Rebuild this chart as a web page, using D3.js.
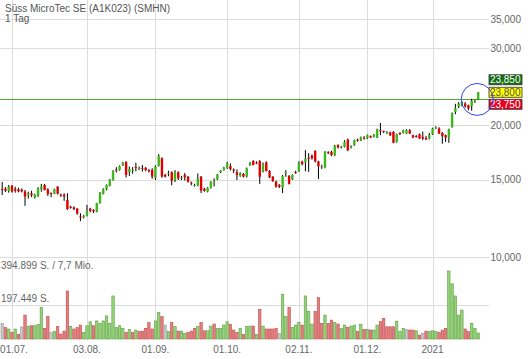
<!DOCTYPE html>
<html>
<head>
<meta charset="utf-8">
<script src="https://cdn.jsdelivr.net/npm/d3@7"></script>
<style>
  body { margin: 0; background: #fff; }
  text { font-family: "Liberation Sans", Arial, sans-serif; }
</style>
</head>
<body>
<svg id="chart" width="530" height="359"></svg>
<script>
// daily candles, 25.06.2020 - 22.01.2021
var opens = [14300,14330,14160,14560,14300,14280,14250,14110,13860,13980,13670,13790,14290,14610,14280,14000,13960,14480,13900,13870,
  13500,13020,12990,12900,12380,12340,12440,12900,12820,12700,13270,13940,14280,14540,15000,15840,15800,16230,16480,15640,
  15780,16050,15930,15990,15990,15790,15810,15180,16140,16810,15420,15500,15620,14990,15620,15120,15400,15260,14800,14580,
  14610,15260,14320,14100,14390,14760,15050,15610,15810,15960,16140,15840,15620,15340,15480,15270,16230,16570,16450,16570,
  15700,16450,15720,15260,14870,14610,14410,15580,15320,15080,15650,15700,16520,16470,16860,17060,17460,16540,16060,16060,
  17350,17400,17080,18020,17830,17860,18560,17860,18040,18540,18500,18720,18680,18890,18820,18760,19490,19400,19250,19260,
  19320,18330,19190,19220,19150,19490,18980,18900,19090,18820,18720,18660,19080,19740,19670,19220,18990,18760,19830,21470,
  22070,22220,22420,22220,22140,22700,22920];
var highs = [14840,14450,14610,14600,14480,14400,14350,14230,14100,14170,13950,14450,14690,14690,14360,14050,14330,14520,13950,13990,
  13990,13100,13050,12930,12590,12480,13160,12960,12860,13300,14080,14360,14650,15080,15800,16050,16200,16500,16570,16100,
  16050,16420,16100,16230,16060,15900,15960,16200,17190,16900,15480,15750,15700,15800,15700,15320,15560,15320,14870,14700,
  15520,15320,14400,14450,14900,15130,15480,15800,16080,16510,16370,15940,15860,15620,15560,16020,16500,16650,16550,16650,
  16450,16560,15800,15300,14950,14680,15400,15800,15400,15450,15750,16550,16600,17550,17280,17150,17550,16600,16250,17460,
  17450,17500,18050,18100,17950,18500,18650,18000,18550,18650,18850,18900,19050,18950,19100,19650,20250,19450,19400,19350,
  19400,19150,19300,19550,19600,19600,19050,19000,19150,19350,18900,19220,19750,19900,19800,19300,19050,19650,21400,22400,
  22600,22700,22600,22300,23000,22900,23850];
var lows = [13860,14080,14030,14030,14030,14060,14050,13090,13600,13700,13600,13720,14100,14200,13790,13700,13920,13900,13720,13440,
  12820,12900,12800,12500,12080,12250,12380,12650,12600,12650,13250,13900,14200,14500,14950,15600,15750,16150,15200,15320,
  15500,15700,15800,15680,15700,15600,15090,15000,16100,15180,15200,15300,14580,14840,15000,14990,14960,14800,14580,14480,
  14510,14000,14100,14050,14330,14500,14980,15550,15750,15900,15770,15550,15000,15250,15200,15200,16150,16200,16300,14690,
  15600,15700,15150,14850,14400,14380,14000,15250,14650,15000,15500,15650,16200,15700,15650,16700,16450,15070,15900,15950,
  17200,17000,17000,17700,17700,17800,17450,17700,17950,18350,18400,18550,18600,18700,18750,18700,18990,19200,19100,18900,
  18200,18250,19000,19150,19100,19100,18700,18750,18600,18500,18500,18570,19000,19600,19100,18150,18330,18240,19750,21200,
  21900,22100,21950,21650,21600,22500,22850];
var closes = [14230,14180,14480,14110,14180,14130,14130,13740,13980,13840,13860,14360,14480,14230,13940,13940,14280,13960,13860,13750,
  12860,12980,12870,12570,12330,12390,12730,12760,12700,13270,14030,14280,14610,15000,15720,15790,16140,16420,15400,15890,
  15830,15990,15960,15950,15810,15720,15270,16090,17010,15270,15270,15580,14950,15620,15130,15180,15210,14870,14740,14620,
  15130,14190,14160,14390,14870,14800,15430,15770,16000,16370,15890,15780,15400,15540,15270,15940,16420,16230,16400,15260,
  16280,15720,15200,14920,14480,14480,15320,15640,14690,15400,15580,16420,16300,16770,16800,16810,16550,16110,16100,17400,
  17300,17100,17960,17800,17870,18330,17550,17950,18500,18460,18760,18660,18990,18760,19050,19560,19390,19330,19300,18990,
  18240,19090,19150,19490,19490,19160,18750,18880,18660,18660,18570,18990,19670,19770,19150,18890,18760,19560,21280,21900,
  22420,22610,22100,21850,22730,22810,23800];
// pieces per day
var volumes = [91000,66000,58000,39000,58000,27000,70000,139000,75000,77000,77000,85000,184000,62000,130000,37000,43000,72000,29000,46000,
  279000,73000,58000,66000,81000,39000,77000,100000,77000,105000,91000,105000,134000,91000,250000,66000,77000,62000,39000,56000,
  39000,52000,43000,46000,62000,95000,58000,105000,153000,130000,81000,43000,95000,72000,46000,46000,33000,39000,46000,62000,
  72000,95000,48000,48000,75000,87000,62000,62000,81000,100000,85000,52000,39000,62000,27000,72000,75000,75000,27000,172000,
  75000,58000,58000,58000,62000,33000,260000,130000,184000,68000,81000,95000,81000,250000,162000,87000,159000,240000,91000,139000,
  91000,110000,95000,87000,62000,81000,68000,75000,81000,43000,85000,56000,56000,52000,52000,81000,101000,120000,71000,71000,
  71000,104000,43000,62000,56000,52000,52000,48000,23000,33000,46000,43000,48000,43000,37000,52000,62000,394899,320000,250000,
  139000,168000,58000,43000,91000,62000,35000];

var tickIdx = [3, 26, 47, 69, 91, 112, 132];
var tickLabels = ["01.07.", "03.08.", "01.09.", "01.10.", "02.11.", "01.12.", "2021"];
var priceTicks = [10000, 15000, 20000, 30000, 35000];
var quotes = [23850, 23800, 23750]; // ask / last / bid
var refPrice = 22920;
var volMax = 394899;
var turnover = "7,7 Mio.";
var title = "Süss MicroTec SE (A1K023) (SMHN)";
var period = "1 Tag";

var green = "#3db81a", red = "#e00000";
var svg = d3.select("#chart");
svg.append("rect").attr("width", 530).attr("height", 359).attr("fill", "#fff");

var x = d3.scaleLinear().domain([0, closes.length - 1]).range([2.2, 478.2]);
var y = d3.scaleLog().domain([10000, 35000]).range([257, 19]);
var yv = d3.scaleLinear().domain([0, volMax]).range([339, 271]);
var de = d3.formatLocale({decimal: ",", thousands: ".", grouping: [3], currency: ["", ""]});
var fmtPrice = d3.format(",");
var fmtVol = de.format(",d");

var grid = svg.append("g").attr("stroke", "#dcdcdc").attr("stroke-width", 1);
grid.selectAll(".v").data(tickIdx).join("line")
  .attr("x1", d => Math.round(x(d)) + 0.5).attr("x2", d => Math.round(x(d)) + 0.5)
  .attr("y1", 0).attr("y2", 340);
grid.selectAll(".h").data(priceTicks).join("line")
  .attr("x1", 0).attr("x2", 489)
  .attr("y1", d => Math.round(y(d)) + 0.5).attr("y2", d => Math.round(y(d)) + 0.5);
grid.append("line").attr("x1", 0).attr("x2", 489)
  .attr("y1", Math.round(yv(volMax / 2)) + 0.5).attr("y2", Math.round(yv(volMax / 2)) + 0.5);

// texts
svg.append("text").attr("x", 5).attr("y", 11.5).attr("font-size", 10).attr("fill", "#555").text(title);
svg.append("text").attr("x", 5).attr("y", 21.5).attr("font-size", 10).attr("fill", "#555").text(period);

svg.append("g").selectAll("text").data(priceTicks).join("text")
  .attr("x", 521).attr("y", d => y(d) + 3.5).attr("text-anchor", "end")
  .attr("font-size", 10).attr("fill", "#666").text(d => fmtPrice(d));

// date labels, kept inside the left edge
svg.append("g").selectAll("text").data(tickIdx).join("text")
  .attr("x", d => Math.max(x(d), 14)).attr("y", 353).attr("text-anchor", "middle")
  .attr("font-size", 10).attr("fill", "#666").text((d, i) => tickLabels[i]);

svg.append("text").attr("x", 1).attr("y", 269).attr("font-size", 10).attr("fill", "#666")
  .text(fmtVol(volMax) + " S. / " + turnover);
svg.append("text").attr("x", 1).attr("y", 302).attr("font-size", 10).attr("fill", "#666")
  .text(fmtVol(Math.floor(volMax / 2)) + " S.");

// volume
var idx = d3.range(closes.length);
function volColor(i) {
  if (i === 0 || closes[i] === closes[i - 1]) return ["#c8c8c8", "#9a9a9a"];
  return closes[i] > closes[i - 1] ? ["#96d47a", "#5c9e3e"] : ["#e68080", "#c04848"];
}
svg.append("g").selectAll("rect").data(idx).join("rect")
  .attr("x", i => x(i) - 1.2).attr("width", 2.4)
  .attr("y", i => yv(volumes[i])).attr("height", i => 339 - yv(volumes[i]))
  .attr("fill", i => volColor(i)[0]).attr("stroke", i => volColor(i)[1]).attr("stroke-width", 0.6);

// reference line
svg.append("line").attr("x1", 0).attr("x2", 489)
  .attr("y1", Math.round(y(refPrice)) + 0.5).attr("y2", Math.round(y(refPrice)) + 0.5)
  .attr("stroke", "#55aa33").attr("stroke-width", 1);

// candles
svg.append("g").selectAll("line").data(idx).join("line")
  .attr("x1", i => x(i)).attr("x2", i => x(i))
  .attr("y1", i => y(highs[i])).attr("y2", i => y(lows[i]))
  .attr("stroke", "#000").attr("stroke-width", 1);
svg.append("g").selectAll("rect").data(idx).join("rect")
  .attr("x", i => x(i) - 1.2).attr("width", 2.4)
  .attr("y", i => y(Math.max(opens[i], closes[i])))
  .attr("height", i => Math.max(1, Math.abs(y(opens[i]) - y(closes[i]))))
  .attr("fill", i => closes[i] >= opens[i] ? green : red);

// quote boxes
var last = closes.length - 1;
var yLast = y(quotes[1]);
var boxes = [
  {v: quotes[0], dy: -12.5, bg: "#146e14", fg: "#fff"},
  {v: quotes[1], dy: 0, bg: "#ffff00", fg: "#555"},
  {v: quotes[2], dy: 12, bg: "#e8001e", fg: "#fff"}
];
var qb = svg.append("g").selectAll("g").data(boxes).join("g")
  .attr("transform", d => "translate(489," + (yLast + d.dy - 5) + ")");
qb.append("rect").attr("width", 33).attr("height", 10)
  .attr("fill", d => d.bg).attr("stroke", "#333").attr("stroke-width", 0.8);
qb.append("text").attr("x", 31.5).attr("y", 8.5).attr("text-anchor", "end")
  .attr("font-size", 10).attr("fill", d => d.fg).text(d => fmtPrice(d.v));

// highlight circle
svg.append("circle").attr("cx", x(last) - 1).attr("cy", y(refPrice)).attr("r", 16)
  .attr("fill", "none").attr("stroke", "#3344ee").attr("stroke-width", 1);
</script>
</body>
</html>
